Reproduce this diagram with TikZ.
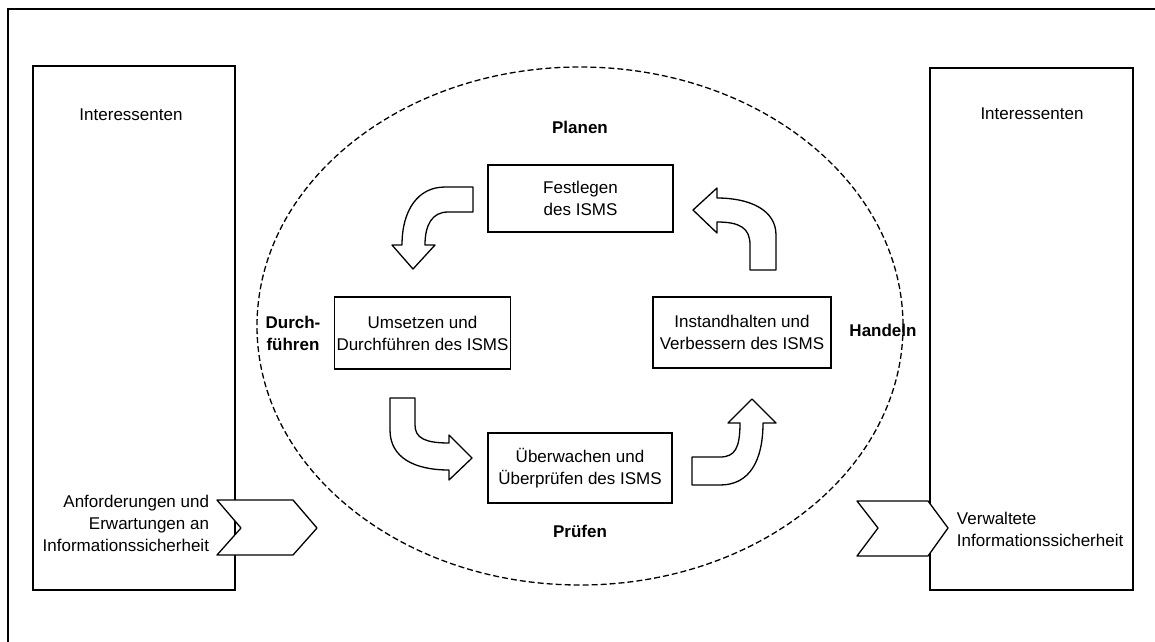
\documentclass[tikz,border=0pt]{standalone}
\usepackage{fontspec}
\setmainfont{Liberation Sans}
\begin{document}
\begin{tikzpicture}[x=1pt,y=-1pt,line width=1.3pt,
	schrift/.style={font=\fontsize{17}{22}\selectfont},
	kasten/.style={draw,schrift,align=center,inner sep=1pt},
	phase/.style={schrift,align=center,font=\fontsize{17}{22}\selectfont\bfseries},
	pfeil/.style={draw,fill=white,line join=round}]
	\useasboundingbox (0,0) rectangle (1155,641);
	\draw (8,660) -- (8,9) -- (1170,9);%Rahmen
	\node[draw,minimum width=202,minimum height=524] (links) at (134,328) {};%linker Kasten
	\node[draw,minimum width=203,minimum height=522] (rechts) at (1031.5,329) {};%rechter Kasten
	\node[schrift] at (131,115) {Interessenten};
	\node[schrift] at (1032,114) {Interessenten};
	\draw[dash pattern=on 6pt off 3pt] (580,326) ellipse (323 and 259);%Kreislauf
	\node[kasten,minimum width=185,minimum height=67] (festlegen) at (580.5,198.5) {Festlegen\\des ISMS};
	\node[kasten,minimum width=176,minimum height=72] (umsetzen) at (422.5,333) {Umsetzen und\\Durchführen des ISMS};
	\node[kasten,minimum width=178,minimum height=71] (instand) at (742,332.5) {Instandhalten und\\Verbessern des ISMS};
	\node[kasten,minimum width=184,minimum height=70] (ueberwachen) at (580,468) {Überwachen und\\Überprüfen des ISMS};
	\node[phase] (planen) at (580,127) {Planen};
	\node[phase] (durch) at (293,333) {Durch-\\führen};
	\node[phase] (handeln) at (883,330) {Handeln};
	\node[phase] (pruefen) at (580,531) {Prüfen};
	%Pfeile im Kreis
	\draw[pfeil] (473,187) -- (445,187) .. controls (418,187) and (402,210) .. (402,245) -- (392,245) -- (413,269) -- (435,245) -- (425,245) .. controls (425,225) and (432,212) .. (448,212) -- (473,212) -- cycle;%Planen nach Durchfuehren
	\draw[pfeil] (390,398) -- (390,430) .. controls (390,458) and (415,470) .. (449,470) -- (449,480) -- (472,458) -- (449,435) -- (449,443) .. controls (425,443) and (415,438) .. (415,425) -- (415,398) -- cycle;%Durchfuehren nach Pruefen
	\draw[pfeil] (692,485) -- (720,485) .. controls (750,485) and (763,460) .. (763,423) -- (776,423) -- (752,399) -- (728,423) -- (740,423) .. controls (740,448) and (735,457) .. (720,457) -- (692,457) -- cycle;%Pruefen nach Handeln
	\draw[pfeil] (776,270) -- (776,235) .. controls (776,210) and (750,198) .. (717,198) -- (717,188) -- (693,210) -- (717,233) -- (717,222) .. controls (740,222) and (750,228) .. (750,245) -- (750,270) -- cycle;%Handeln nach Planen
	%Eingang und Ausgang
	\draw[pfeil] (217,500) -- (293,500) -- (317,528) -- (293,555) -- (217,555) -- (241,528) -- cycle;
	\draw[pfeil] (857,501) -- (928,501) -- (948,528) -- (928,556) -- (857,556) -- (878,528) -- cycle;
	\node[schrift,align=right,anchor=east] (anforderungen) at (213,523) {Anforderungen und\\Erwartungen an\\Informationssicherheit};
	\node[schrift,align=left,anchor=west] (verwaltet) at (953,529) {Verwaltete\\Informationssicherheit};
\end{tikzpicture}
\end{document}
